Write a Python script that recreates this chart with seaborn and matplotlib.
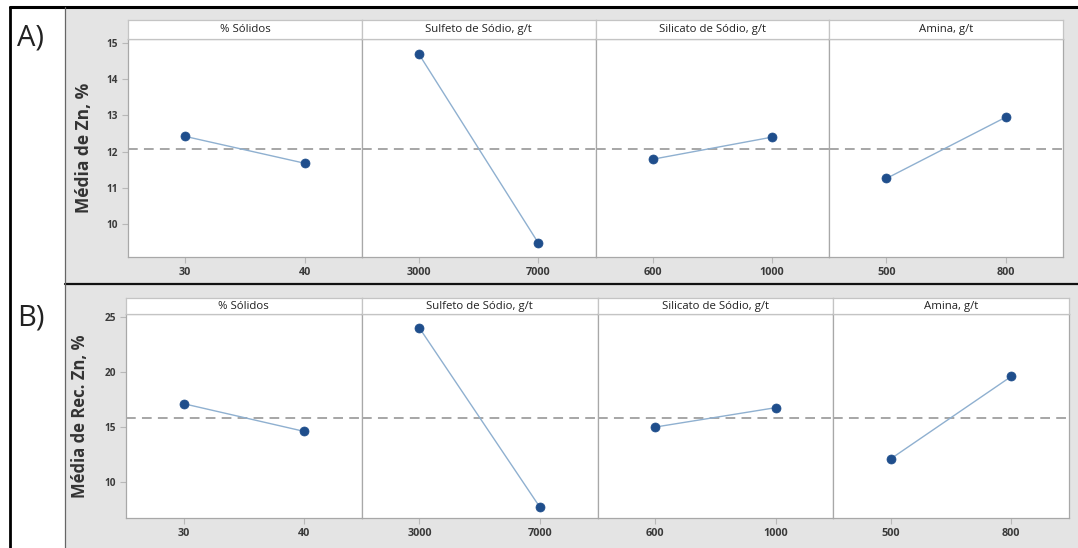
import matplotlib
matplotlib.use("Agg")
import matplotlib.pyplot as plt
import seaborn as sns
import pandas as pd
from matplotlib.lines import Line2D
from matplotlib.patches import Rectangle

# Main effects of the flotation factors
factors = ["% Sólidos", "Sulfeto de Sódio, g/t", "Silicato de Sódio, g/t", "Amina, g/t"]
levels = [["30", "40"], ["3000", "7000"], ["600", "1000"], ["500", "800"]]

# A) mean Zn grade (%) at each level
zn_means = [[12.42, 11.68], [14.69, 9.48], [11.79, 12.40], [11.26, 12.95]]
zn_overall = 12.07
zn_yticks = [10, 11, 12, 13, 14, 15]

# B) mean Zn recovery (%) at each level
rec_means = [[17.15, 14.64], [24.02, 7.77], [15.03, 16.79], [12.16, 19.63]]
rec_overall = 15.85
rec_yticks = [10, 15, 20, 25]

sns.set_theme(style="white")
plt.rcParams["font.family"] = ["Open Sans", "DejaVu Sans"]

W, H = 1078, 548
fig = plt.figure(figsize=(W / 100, H / 100), dpi=100)
fig.patch.set_facecolor("white")


def fx(px):
    return px / W


def fy(py):
    return 1 - py / H


BG = "#e4e4e4"
LINE_C = "#8fb0d0"
DOT_C = "#1f4e8c"
FRAME_C = "#a8a8a8"
TEXT_C = "#3a3a3a"

# grey backdrop and black frame lines
fig.add_artist(Rectangle((fx(65), 0), 1 - fx(65), fy(7), transform=fig.transFigure,
                         facecolor=BG, edgecolor="none", zorder=-10))
fig.add_artist(Line2D([fx(10), 1], [fy(7), fy(7)], transform=fig.transFigure,
                      color="black", lw=2.2, zorder=5))
fig.add_artist(Line2D([fx(10), fx(10)], [0, fy(7)], transform=fig.transFigure,
                      color="black", lw=2.0, zorder=5))
fig.add_artist(Line2D([fx(65), 1], [fy(284), fy(284)], transform=fig.transFigure,
                      color="#111111", lw=1.6, zorder=5))
fig.add_artist(Line2D([fx(65), fx(65)], [0, fy(7)], transform=fig.transFigure,
                      color="#666666", lw=0.9, zorder=5))


def draw_block(means, overall, ylim, yticks, ylabel, left, right,
               strip_top, top, bottom, ylab_x, ylab_size, letter, letter_y):
    width = (right - left) / 4
    for i, (fac, lv, vals) in enumerate(zip(factors, levels, means)):
        x0 = left + i * width
        ax = fig.add_axes([fx(x0), fy(bottom), width / W, (bottom - top) / H])
        ax.set_facecolor("white")
        df = pd.DataFrame({"pos": [0, 1], "media": vals})
        ax.axhline(overall, color="#a6a6a6", lw=1.4, ls=(0, (5, 3.2)), zorder=1)
        sns.lineplot(data=df, x="pos", y="media", ax=ax, color=LINE_C, lw=1.0,
                     marker="o", markersize=6.5, markerfacecolor=DOT_C,
                     markeredgecolor=DOT_C, markeredgewidth=0.5, zorder=3)
        ax.set_xlim(-0.48, 1.48)
        ax.set_ylim(*ylim)
        ax.set_xlabel("")
        ax.set_ylabel("")
        ax.set_xticks([0, 1])
        ax.set_xticklabels(lv, fontsize=7.8, color=TEXT_C, fontweight="bold")
        if i == 0:
            ax.set_yticks(yticks)
            ax.set_yticklabels([str(t) for t in yticks], fontsize=7.2,
                               color=TEXT_C, fontweight="bold")
            ax.tick_params(axis="y", length=4, width=0.8, color="#b8b8b8",
                           pad=3, left=True)
        else:
            ax.set_yticks([])
        ax.tick_params(axis="x", length=4, width=0.8, color="#b8b8b8",
                       pad=3, bottom=True)
        for sp in ax.spines.values():
            sp.set_color(FRAME_C)
            sp.set_linewidth(0.9)

        sax = fig.add_axes([fx(x0), fy(top), width / W, (top - strip_top) / H])
        sax.set_facecolor("white")
        sax.set_xticks([])
        sax.set_yticks([])
        for sp in sax.spines.values():
            sp.set_color("#c4c4c4")
            sp.set_linewidth(0.9)
        sax.text(0.5, 0.48, fac, ha="center", va="center", fontsize=8.2,
                 color="#222222", fontweight="medium", transform=sax.transAxes)

    fig.text(fx(ylab_x), fy((top + bottom) / 2), ylabel, rotation=90,
             ha="center", va="center", fontsize=ylab_size, fontweight="bold",
             color="#333333")
    fig.text(fx(17), fy(letter_y), letter, ha="left", va="center",
             fontsize=21, color="#222222")


draw_block(zn_means, zn_overall, (9.09, 15.11), zn_yticks, "Média de Zn, %",
           128, 1063, 20, 39, 257, 84, 12.5, "A)", 38)
draw_block(rec_means, rec_overall, (6.77, 25.3), rec_yticks, "Média de Rec. Zn, %",
           126, 1069, 298, 314, 518, 80, 12, "B)", 318)

fig.savefig("out.png", dpi=100, facecolor=fig.get_facecolor())
